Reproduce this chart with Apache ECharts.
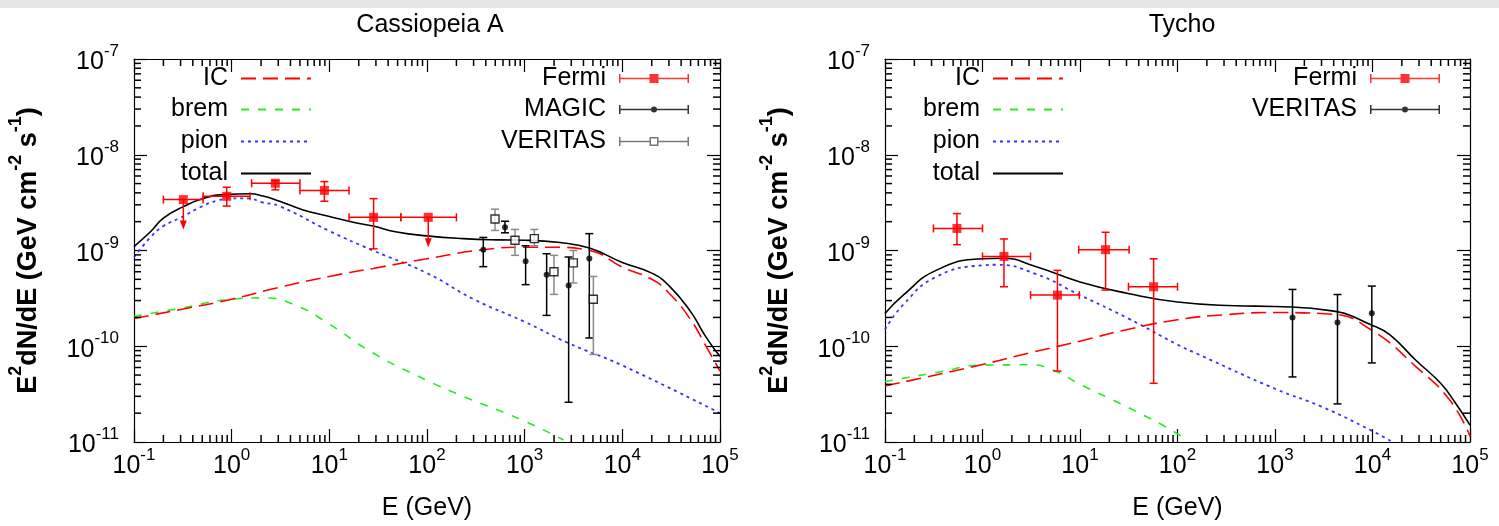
<!DOCTYPE html>
<html><head><meta charset="utf-8">
<script src="https://cdn.jsdelivr.net/npm/echarts@6/dist/echarts.min.js"></script>
<style>html,body{margin:0;padding:0;background:#fff}#c{width:1499px;height:526px}</style>
</head><body><div id="c"></div>
<script>
// ================= DATA =================
const titles = ['Cassiopeia A', 'Tycho'];
const xLabelName = 'E (GeV)';
const yLabelName = '{b|E}{s|2}{b|dN/dE (GeV cm}{s|-2}{b| s}{s|-1}{b|)}';

// ---- Cassiopeia A model curves (E in GeV, E^2 dN/dE in GeV cm^-2 s^-1)
const casaTotalE = [0.1,0.15,0.2,0.32,0.51,0.89,1.54,2.1,3.1,5.4,10,19,28,49,100,234,520,1000,2300,4600,1e4,2e4,3e4,5e4,7e4,1e5];
const casaTotal  = [1.1e-9,1.6e-9,2.18e-9,2.87e-9,3.5e-9,3.86e-9,3.92e-9,3.7e-9,3.27e-9,2.65e-9,2.27e-9,1.94e-9,1.8e-9,1.56e-9,1.42e-9,1.33e-9,1.29e-9,1.28e-9,1.21e-9,1.06e-9,7.5e-10,5.8e-10,4.3e-10,2.3e-10,1.3e-10,7.8e-11];
const casaIcE = [0.1,0.32,1,3,10,28,100,377,1000,2000,4600,1e4,2e4,3e4,5e4,7e4,1e5];
const casaIc  = [1.95e-10,2.45e-10,3.1e-10,4.1e-10,5.36e-10,6.5e-10,8.2e-10,1.02e-9,1.08e-9,1.08e-9,1.0e-9,6.7e-10,5.0e-10,3.6e-10,1.9e-10,1.05e-10,5.5e-11];
const casaBremE = [0.1,0.3,1,2.1,4.6,10,28,100,235,960,2500];
const casaBrem  = [2.05e-10,2.5e-10,3.1e-10,3.2e-10,2.65e-10,1.7e-10,8.5e-11,4.4e-11,3.0e-11,1.68e-11,1.05e-11];
const casaPionE = [0.1,0.15,0.2,0.3,0.5,0.7,1,1.5,2,3.1,10,28,100,300,1000,2800,1e4,1e5];
const casaPion  = [8.5e-10,1.4e-9,1.8e-9,2.2e-9,2.9e-9,3.3e-9,3.5e-9,3.5e-9,3.2e-9,2.9e-9,1.6e-9,1.0e-9,5.8e-10,3.1e-10,1.8e-10,1.08e-10,6.3e-11,2.0e-11];

// ---- Cassiopeia A data points
// Fermi: [E, flux, Elo, Ehi, fluxLo (or arrow tip), fluxHi, upperLimit]
const fermiCasA = [
  [0.32, 3.4e-9, 0.2, 0.51, 1.66e-9, 3.4e-9, 1],
  [0.89, 3.68e-9, 0.51, 1.54, 2.91e-9, 4.58e-9, 0],
  [2.8, 5.04e-9, 1.6, 5.0, 4.3e-9, 5.36e-9, 0],
  [8.9, 4.24e-9, 5.0, 15.9, 3.27e-9, 5.24e-9, 0],
  [28.4, 2.22e-9, 15.9, 53.9, 1.04e-9, 3.48e-9, 0],
  [103, 2.22e-9, 53.9, 200, 1.08e-9, 2.22e-9, 1]
];
// MAGIC / VERITAS: [E, flux, fluxLo, fluxHi]
const magicCasA = [
  [377, 1.02e-9, 6.78e-10, 1.37e-9],
  [629, 1.75e-9, 1.53e-9, 2.02e-9],
  [1023, 7.73e-10, 4.4e-10, 1.12e-9],
  [1679, 5.57e-10, 2.1e-10, 9.25e-10],
  [2820, 4.3e-10, 2.6e-11, 8.55e-10],
  [4590, 8.23e-10, 1.22e-10, 1.5e-9]
];
const veritasCasA = [
  [497, 2.13e-9, 1.62e-9, 2.7e-9],
  [796, 1.28e-9, 8.9e-10, 1.66e-9],
  [1256, 1.33e-9, 1.12e-9, 1.66e-9],
  [1995, 6.0e-10, 3.48e-10, 8.9e-10],
  [3150, 7.43e-10, 4.58e-10, 1.0e-9],
  [5050, 3.1e-10, 8.2e-11, 5.36e-10]
];

// ---- Tycho model curves
const tychoTotalE = [0.1,0.153,0.334,1,1.6,3.5,10,31,100,385,1000,3860,1e4,1.5e4,2.8e4,5e4,7e4,1e5];
const tychoTotal  = [2.2e-10,3.4e-10,6.2e-10,8.2e-10,8.3e-10,6.8e-10,4.7e-10,3.56e-10,2.9e-10,2.65e-10,2.6e-10,2.34e-10,1.65e-10,1.32e-10,7.1e-11,4.1e-11,2.6e-11,1.5e-11];
const tychoIcE = [0.1,1,3,10,30,100,300,1000,3860,1e4,2.8e4,6.2e4,1e5];
const tychoIc  = [3.85e-11,6.45e-11,8.5e-11,1.13e-10,1.49e-10,1.89e-10,2.13e-10,2.25e-10,2.16e-10,1.45e-10,6.1e-11,2.74e-11,1.15e-11];
const tychoBremE = [0.1,0.334,1,3,5.6,10,31,100,125];
const tychoBrem  = [4.28e-11,5.3e-11,6.35e-11,6.4e-11,5.5e-11,4.0e-11,2.3e-11,1.22e-11,1.0e-11];
const tychoPionE = [0.1,0.153,0.334,1,1.37,3.5,10,31,100,161,1000,3000,1e4,1.6e4];
const tychoPion  = [1.49e-10,2.7e-10,5.3e-10,7.0e-10,7.1e-10,5.7e-10,3.42e-10,1.96e-10,1.04e-10,8.3e-11,3.6e-11,2.34e-11,1.3e-11,1.0e-11];

// ---- Tycho data points
const fermiTycho = [
  [0.547, 1.70e-9, 0.314, 1.0, 1.15e-9, 2.43e-9, 0],
  [1.66, 8.67e-10, 1.0, 3.11, 4.18e-10, 1.32e-9, 0],
  [5.87, 3.42e-10, 3.11, 9.85, 5.5e-11, 6.2e-10, 0],
  [18.3, 1.02e-9, 9.7, 31.9, 3.86e-10, 1.55e-9, 0],
  [56.9, 4.18e-10, 31.4, 100, 4.1e-11, 8.2e-10, 0]
];
const veritasTycho = [
  [1512, 2.0e-10, 4.78e-11, 3.92e-10],
  [4375, 1.77e-10, 2.5e-11, 3.47e-10],
  [9840, 2.21e-10, 6.7e-11, 4.25e-10]
];

// ---- axis ranges and tick decades
const xRange = [0.1, 1e5];
const yRange = [1e-11, 1e-7];
const xDecades = [-1, 0, 1, 2, 3, 4];
const yDecades = [-11, -10, -9, -8];

// ================= BUILD =================
const FONT = 'Liberation Sans, Arial, Helvetica, sans-serif';
const xMinor = []; xDecades.forEach(e => { for (let m = 2; m <= 9; m++) xMinor.push(m * Math.pow(10, e)); });
const yMinor = []; yDecades.forEach(e => { for (let m = 2; m <= 9; m++) yMinor.push(m * Math.pow(10, e)); });

const pairs = (E, Y) => E.map((e, i) => [e, Y[i]]);
const supRich = {
  b: { fontSize: 25, fontFamily: FONT, color: '#000', verticalAlign: 'bottom', padding: [7, 0, 0, 0] },
  s: { fontSize: 17, fontFamily: FONT, color: '#000', verticalAlign: 'top' }
};
const expFmt = v => '{b|10}{s|' + Math.round(Math.log10(v)) + '}';

const grids = [
  { left: 134, top: 59, width: 586, height: 384 },
  { left: 885, top: 59, width: 585, height: 384 }
];
const xAxis = [], yAxis = [];
grids.forEach((g, gi) => {
  const common = { type: 'log', logBase: 10, gridIndex: gi, splitLine: { show: false },
    axisLine: { show: true, lineStyle: { color: '#000', width: 1.2 } },
    axisTick: { show: true, inside: true, length: 13, lineStyle: { color: '#000', width: 1.2 } } };
  xAxis.push(Object.assign({}, common, { min: xRange[0], max: xRange[1], position: 'bottom', splitNumber: 6,
    axisLabel: { formatter: expFmt, rich: supRich, margin: 5, showMinLabel: true, showMaxLabel: true },
    name: xLabelName, nameLocation: 'middle', nameGap: 54,
    nameTextStyle: { fontSize: 25, fontFamily: FONT, color: '#000' } }));
  xAxis.push(Object.assign({}, common, { min: xRange[0], max: xRange[1], position: 'top', splitNumber: 6,
    axisLabel: { show: false } }));
  yAxis.push(Object.assign({}, common, { min: yRange[0], max: yRange[1], position: 'left', splitNumber: 4,
    axisLabel: { formatter: expFmt, rich: supRich, margin: 15, showMinLabel: true, showMaxLabel: true },
    name: yLabelName, nameLocation: 'middle', nameGap: 92, nameRotate: 90,
    nameTextStyle: { rich: {
      b: { fontSize: 27, fontWeight: 'bold', fontFamily: FONT, color: '#000', verticalAlign: 'bottom', padding: [8, 0, 0, 0] },
      s: { fontSize: 18, fontWeight: 'bold', fontFamily: FONT, color: '#000', verticalAlign: 'top' } } } }));
  yAxis.push(Object.assign({}, common, { min: yRange[0], max: yRange[1], position: 'right', splitNumber: 4,
    axisLabel: { show: false } }));
});

const series = [];
function curve(name, E, Y, gi, color, type, width, z) {
  series.push({ type: 'line', name, xAxisIndex: gi * 2, yAxisIndex: gi * 2, data: pairs(E, Y),
    smooth: 0.5, symbol: 'none', silent: true, animation: false, clip: true,
    lineStyle: { color, type, width }, itemStyle: { color }, z: z || 3 });
}
function L(x1, y1, x2, y2, color) {
  return { type: 'line', shape: { x1, y1, x2, y2 }, style: { stroke: color, lineWidth: 1.5 } };
}
function errSeries(name, rows, gi, color) {
  series.push({ type: 'custom', name, xAxisIndex: gi * 2, yAxisIndex: gi * 2, data: rows, silent: true,
    animation: false, z: 4, encode: { x: 0, y: 1 },
    renderItem: (params, api) => {
      const x = api.value(0), y = api.value(1), xl = api.value(2), xh = api.value(3),
            yl = api.value(4), yh = api.value(5), ul = api.value(6);
      const p = api.coord([x, y]), c = 4, ch = [];
      if (xl > 0 && xh > 0) {
        const a = api.coord([xl, y]), b = api.coord([xh, y]);
        ch.push(L(a[0], p[1], b[0], p[1], color), L(a[0], p[1] - c, a[0], p[1] + c, color), L(b[0], p[1] - c, b[0], p[1] + c, color));
      }
      if (ul) {
        const t = api.coord([x, yl]);
        ch.push(L(p[0], p[1], p[0], t[1] - 4, color));
        ch.push({ type: 'polygon', shape: { points: [[p[0] - 3.5, t[1] - 9], [p[0] + 3.5, t[1] - 9], [p[0], t[1]]] }, style: { fill: color } });
      } else if (yl > 0 && yh > 0) {
        const a = api.coord([x, yl]), b = api.coord([x, yh]);
        ch.push(L(p[0], a[1], p[0], b[1], color), L(p[0] - c, a[1], p[0] + c, a[1], color), L(p[0] - c, b[1], p[0] + c, b[1], color));
      }
      return { type: 'group', children: ch };
    } });
}
function marks(name, rows, gi, symbol, size, style) {
  series.push({ type: 'scatter', name, xAxisIndex: gi * 2, yAxisIndex: gi * 2, data: rows.map(r => [r[0], r[1]]),
    symbol, symbolSize: size, itemStyle: style, silent: true, animation: false, z: 5 });
}
const toErr = rows => rows.map(r => [r[0], r[1], 0, 0, r[2], r[3], 0]);

// minor ticks (2..9 per decade) on all four sides, placed through the axes
grids.forEach((g, gi) => {
  series.push({ type: 'custom', name: 'xminor' + gi, xAxisIndex: gi * 2, yAxisIndex: gi * 2, silent: true, animation: false, z: 6,
    data: xMinor.map(v => [v, 1e-9]),
    renderItem: (params, api) => {
      const cs = params.coordSys, px = api.coord([api.value(0), 1e-9])[0];
      return { type: 'group', children: [L(px, cs.y + cs.height, px, cs.y + cs.height - 7, '#000'), L(px, cs.y, px, cs.y + 7, '#000')] };
    } });
  series.push({ type: 'custom', name: 'yminor' + gi, xAxisIndex: gi * 2, yAxisIndex: gi * 2, silent: true, animation: false, z: 6,
    data: yMinor.map(v => [1, v]),
    renderItem: (params, api) => {
      const cs = params.coordSys, py = api.coord([1, api.value(1)])[1];
      return { type: 'group', children: [L(cs.x, py, cs.x + 7, py, '#000'), L(cs.x + cs.width, py, cs.x + cs.width - 7, py, '#000')] };
    } });
});

const RED = '#ff0000', GREEN = '#22ee22', BLUE = '#3333ff', GRAY = '#8a8a8a';
const IC_DASH = [15, 7], BREM_DASH = [8, 9], PION_DASH = [3, 4];
// Cas A
curve('brem', casaBremE, casaBrem, 0, GREEN, BREM_DASH, 1.6);
curve('pion', casaPionE, casaPion, 0, BLUE, PION_DASH, 1.8);
curve('IC', casaIcE, casaIc, 0, RED, IC_DASH, 1.6);
curve('total', casaTotalE, casaTotal, 0, '#000', 'solid', 1.6);
errSeries('Fermi err', fermiCasA, 0, RED);
errSeries('MAGIC err', toErr(magicCasA), 0, '#000');
errSeries('VERITAS err', toErr(veritasCasA), 0, GRAY);
marks('Fermi', fermiCasA, 0, 'rect', 9, { color: RED });
marks('MAGIC', magicCasA, 0, 'circle', 6, { color: '#000' });
marks('VERITAS', veritasCasA, 0, 'rect', 8, { color: '#fff', borderColor: '#000', borderWidth: 1.4 });
// Tycho
curve('brem', tychoBremE, tychoBrem, 1, GREEN, BREM_DASH, 1.6);
curve('pion', tychoPionE, tychoPion, 1, BLUE, PION_DASH, 1.8);
curve('IC', tychoIcE, tychoIc, 1, RED, IC_DASH, 1.6);
curve('total', tychoTotalE, tychoTotal, 1, '#000', 'solid', 1.6);
errSeries('Fermi err', fermiTycho, 1, RED);
errSeries('VERITAS err', toErr(veritasTycho), 1, '#000');
marks('Fermi', fermiTycho, 1, 'rect', 9, { color: RED });
marks('VERITAS', veritasTycho, 1, 'circle', 6, { color: '#000' });

// legend icons (error-bar samples)
const caps = 'M0,0H1.5V9H0Z M68.5,0H70V9H68.5Z ';
const fermiIcon = 'path://' + caps + 'M0,3.8H70V5.2H0Z M30.5,0H39.5V9H30.5Z';
const dotIcon = 'path://' + caps + 'M0,3.8H70V5.2H0Z M35,1.5A3,3 0 1,1 35,7.5A3,3 0 1,1 35,1.5Z';
const openSqIcon = 'path://' + caps + 'M0,3.8H30.5V5.2H0Z M39.5,3.8H70V5.2H39.5Z M30.5,0H39.5V9H30.5Z M32,1.5V7.5H38V1.5Z';

const legends = [];
function leg(item, right, top, h) {
  legends.push({ data: [item], right, top, orient: 'vertical', align: 'right', padding: 0, selectedMode: false,
    itemWidth: 70, itemHeight: h || 14,
    textStyle: { fontSize: 25, fontFamily: FONT, color: '#000', padding: [0, 8, 0, 0] } });
}
const hideSym = { color: 'rgba(0,0,0,0)', opacity: 0, borderWidth: 0 };
const rowTop = [66, 97, 129, 161];
[[0, 1187], [1, 435]].forEach(([gi, r]) => {
  leg({ name: 'IC', itemStyle: hideSym }, r, rowTop[0]);
  leg({ name: 'brem', itemStyle: hideSym }, r, rowTop[1]);
  leg({ name: 'pion', itemStyle: hideSym }, r, rowTop[2]);
  leg({ name: 'total', itemStyle: hideSym }, r, rowTop[3]);
});
leg({ name: 'Fermi', icon: fermiIcon, itemStyle: { color: RED, borderWidth: 0 } }, 810, rowTop[0], 9);
leg({ name: 'MAGIC', icon: dotIcon, itemStyle: { color: '#000', borderWidth: 0 } }, 810, rowTop[1], 9);
leg({ name: 'VERITAS', icon: openSqIcon, itemStyle: { color: '#555', borderWidth: 0 } }, 810, rowTop[2], 9);
leg({ name: 'Fermi', icon: fermiIcon, itemStyle: { color: RED, borderWidth: 0 } }, 59, rowTop[0], 9);
leg({ name: 'VERITAS', icon: dotIcon, itemStyle: { color: '#000', borderWidth: 0 } }, 59, rowTop[1], 9);

const option = {
  backgroundColor: '#fff',
  animation: false,
  title: [
    { text: titles[0], left: 425, top: 8, textAlign: 'center', textStyle: { fontSize: 25, fontWeight: 'normal', fontFamily: FONT, color: '#000' } },
    { text: titles[1], left: 1177, top: 8, textAlign: 'center', textStyle: { fontSize: 25, fontWeight: 'normal', fontFamily: FONT, color: '#000' } }
  ],
  graphic: [{ type: 'rect', shape: { x: 0, y: 0, width: 1499, height: 8 }, style: { fill: '#e6e6e6' }, silent: true, z: -10 }],
  grid: grids,
  xAxis, yAxis,
  legend: legends,
  series
};
const chart = echarts.init(document.getElementById('c'), null, { renderer: 'canvas' });
chart.setOption(option);
</script></body></html>
